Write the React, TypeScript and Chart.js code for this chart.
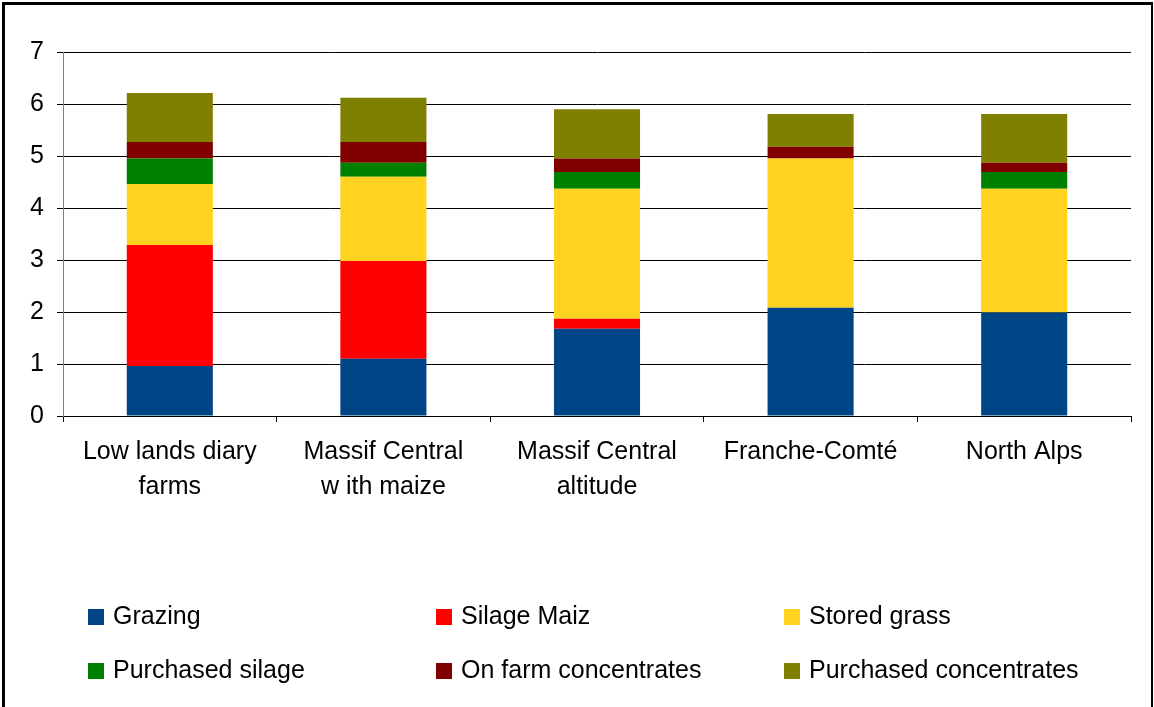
import React, { useEffect, useRef } from "react";
import { Chart, registerables } from "chart.js";

Chart.register(...registerables);

const categories: (string | string[])[] = [
  ["Low lands diary", "farms"],
  ["Massif Central", "w ith maize"],
  ["Massif Central", "altitude"],
  "Franche-Comté",
  "North Alps",
];

const seriesNames = [
  "Grazing",
  "Silage Maiz",
  "Stored grass",
  "Purchased silage",
  "On farm concentrates",
  "Purchased concentrates",
];

const grazing = [0.96, 1.1, 1.68, 2.08, 1.99];
const silageMaiz = [2.33, 1.88, 0.19, 0, 0];
const storedGrass = [1.17, 1.62, 2.5, 2.87, 2.38];
const purchasedSilage = [0.49, 0.27, 0.32, 0, 0.32];
const onFarmConcentrates = [0.32, 0.4, 0.26, 0.23, 0.18];
const purchasedConcentrates = [0.94, 0.85, 0.95, 0.63, 0.94];

const yTicks = [0, 1, 2, 3, 4, 5, 6, 7];

const colors = ["#004586", "#FF0000", "#FFD320", "#008000", "#800000", "#808000"];

const FONT = "'Liberation Sans', Arial, sans-serif";

export default function App() {
  const ref = useRef<HTMLCanvasElement | null>(null);

  useEffect(() => {
    document.body.style.margin = "0";
    const canvas = ref.current;
    if (!canvas) return;
    const values = [
      grazing,
      silageMaiz,
      storedGrass,
      purchasedSilage,
      onFarmConcentrates,
      purchasedConcentrates,
    ];

    const framePlugin = {
      id: "frame",
      beforeDraw(chart: any) {
        const c = chart.ctx;
        c.save();
        c.fillStyle = "#fff";
        c.fillRect(0, 0, chart.width, chart.height);
        c.restore();
      },
      afterDraw(chart: any) {
        const c = chart.ctx;
        c.save();
        c.fillStyle = "#000";
        c.fillRect(2, 2, 3, chart.height);
        c.fillRect(2, 2, 1151, 3);
        c.fillRect(1151, 2, 2, chart.height);
        // legend grid: 3 columns x 2 rows
        c.font = `25px ${FONT}`;
        c.textBaseline = "middle";
        c.textAlign = "left";
        chart.data.datasets.forEach((ds: any, i: number) => {
          const col = i % 3;
          const row = Math.floor(i / 3);
          const bx = 88 + col * 348;
          const cy = 617 + row * 54;
          c.fillStyle = ds.backgroundColor;
          c.fillRect(bx, cy - 8, 16, 16);
          c.fillStyle = "#000";
          c.fillText(ds.label, bx + 25, cy);
        });
        c.restore();
      },
    };

    const chart = new Chart(canvas, {
      type: "bar",
      data: {
        labels: categories,
        datasets: seriesNames.map((name, i) => ({
          label: name,
          data: values[i],
          backgroundColor: colors[i],
          borderWidth: 0,
          barPercentage: 0.403,
          categoryPercentage: 1,
        })),
      },
      options: {
        responsive: false,
        devicePixelRatio: 1,
        animation: false,
        layout: { padding: { left: 0, top: 52, right: 23, bottom: 0 } },
        plugins: {
          legend: { display: false },
          tooltip: { enabled: false },
          title: { display: false },
        },
        scales: {
          x: {
            stacked: true,
            grid: {
              offset: true,
              drawOnChartArea: false,
              drawTicks: true,
              tickLength: 6,
              color: "#000",
            },
            border: { color: "#000", width: 1 },
            ticks: {
              color: "#000",
              font: { family: FONT, size: 25, lineHeight: 1.4 },
              padding: 13,
              maxRotation: 0,
              autoSkip: false,
            },
            afterFit(scale: any) {
              scale.height = 707 - 416;
            },
          },
          y: {
            stacked: true,
            min: 0,
            max: 7,
            afterBuildTicks(scale: any) {
              scale.ticks = yTicks.map((v) => ({ value: v }));
            },
            grid: {
              color: "#000",
              lineWidth: 1,
              drawTicks: true,
              tickLength: 6,
            },
            border: { color: "#808080", width: 1 },
            ticks: {
              color: "#000",
              font: { family: FONT, size: 25 },
              padding: 13,
            },
            afterFit(scale: any) {
              scale.width = 63;
            },
          },
        },
      },
      plugins: [framePlugin],
    });
    return () => chart.destroy();
  }, []);

  return (
    <div style={{ position: "fixed", left: 0, top: 0, width: 1154, height: 707 }}>
      <canvas ref={ref} width={1154} height={707} style={{ display: "block" }} />
    </div>
  );
}
